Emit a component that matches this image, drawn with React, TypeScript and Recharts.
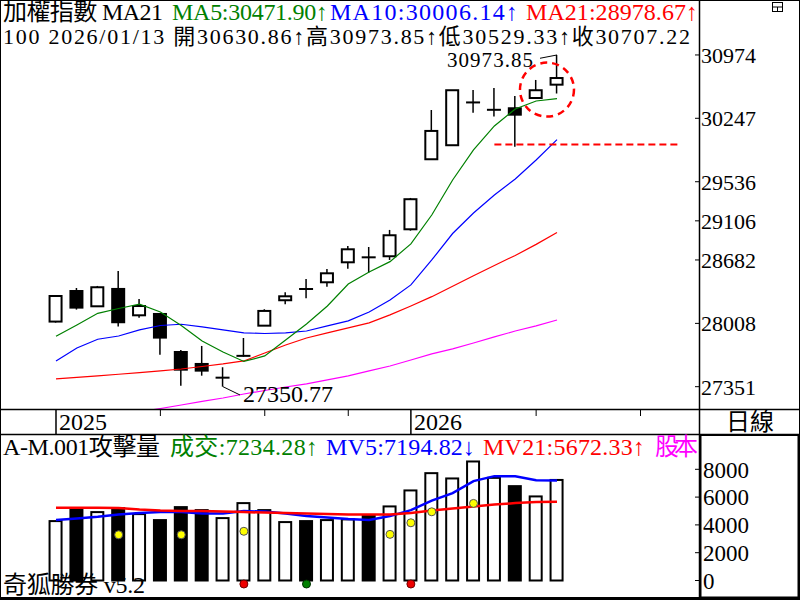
import React from 'react';
import { ComposedChart, Bar, Line, XAxis, YAxis, Scatter, ReferenceDot } from 'recharts';

const FONT = "'Liberation Serif','Noto Sans CJK TC',serif";

// ---- price data (25 daily candles) ----
const opens = [28027, 28350, 28188, 28372, 28093, 28107, 27709, 27585, 27442, 27668, 27984, 28252, 28373, 28443, 28657, 28712, 28722, 29014, 29786, 29943, 30426, 30342, 30361, 30478, 30630.86];
const highs = [28297, 28382, 28404, 28564, 28266, 28107, 27730, 27772, 27551, 27855, 28157, 28337, 28478, 28586, 28833, 28822, 29007, 29357, 30341, 30570, 30570, 30593, 30501, 30685, 30973.85];
const lows = [28016, 28153, 28188, 27974, 28068, 27681, 27360, 27464, 27350.77, 27660, 27984, 28210, 28273, 28396, 28589, 28546, 28682, 28999, 29786, 29943, 30311, 30266, 29927, 30478, 30529.33];
const closes = [28297, 28174, 28390, 28020, 28191, 27859, 27526, 27516, 27445, 27670, 28139, 28294, 28370, 28539, 28797, 28709, 28949, 29343, 30104, 30567, 30429, 30345, 30288, 30567, 30707.22];
const ma5 = [27873, 27992, 28114, 28165, 28210, 28128, 27986, 27824, 27709, 27611, 27668, 27834, 28002, 28191, 28425, 28553, 28664, 28855, 29170, 29555, 29890, 30160, 30353, 30444, 30471.9];
const ma10 = [27616, 27751, 27842, 27876, 27939, 27986, 27999, 27971, 27939, 27908, 27902, 27908, 27928, 27981, 28034, 28128, 28255, 28415, 28682, 28968, 29192, 29390, 29567, 29778, 30006.14];
const ma21 = [27431, 27446, 27462, 27479, 27495, 27513, 27533, 27559, 27585, 27616, 27699, 27782, 27855, 27908, 27960, 28013, 28097, 28191, 28290, 28401, 28513, 28623, 28731, 28850, 28978.67];
const ma60 = [null, null, null, null, 27094, 27128, 27164, 27200, 27235, 27276, 27312, 27348, 27379, 27420, 27462, 27513, 27564, 27626, 27689, 27741, 27803, 27866, 27928, 27981, 28044];
const priceTicks = [27351, 28008, 28682, 29106, 29536, 30247, 30974];
const supportLevel = 29950;
const supportFrom = 21;
const supportTo = 29.9;
const circleAt = { i: 23.52, v: 30574 };
const highNoteIdx = 24;
const lowNoteIdx = 8;

// ---- volume data ----
const volumes = [4274, 5208, 4921, 5208, 4777, 4346, 5280, 5065, 4490, 5568, 5065, 4203, 4274, 4346, 4397, 4655, 5330, 6480, 7723, 7342, 8563, 7385, 6789, 6049, 7234.28];
const mv5 = [4346, 4468, 4583, 4741, 4849, 4921, 4921, 4828, 4813, 4993, 4957, 4813, 4634, 4526, 4418, 4346, 4634, 5065, 5747, 6286, 7148, 7507, 7507, 7220, 7194.82];
const mv21 = [5230, 5230, 5230, 5208, 5101, 5029, 4993, 4993, 4957, 4921, 4885, 4849, 4813, 4777, 4756, 4756, 4756, 4849, 5029, 5172, 5316, 5460, 5568, 5639, 5672.33];
const volumeTicks = [0, 2000, 4000, 6000, 8000];
const yellowIdx = [3, 6, 9, 16, 17, 18, 20];
const yellowVal = [3290, 3290, 3540, 3319, 4152, 4943, 5546];
const redIdx = [9, 17];
const greenIdx = [12];
const signalLevel = -252;

// ---- date axis ----
const yearLabels = ['2025', '2026'];
const yearTickIdx = [0, 17];
const minorTickIdx = [5, 10, 14, 23, 28];

const X_DOMAIN: [number, number] = [-2.6826, 30.802];
const PRICE_DOMAIN: [number, number] = [27123, 31619];
const VOL_DOMAIN: [number, number] = [-1259, 10540];

const priceRows = opens.map((o, i) => ({
  i, o, h: highs[i], l: lows[i], c: closes[i],
  ma5: ma5[i], ma10: ma10[i], ma21: ma21[i], ma60: ma60[i],
}));
const supportPts = [{ i: supportFrom, s: supportLevel }, { i: supportTo, s: supportLevel }];
const volRows = volumes.map((v, i) => ({ i, vol: v, down: closes[i] < opens[i], mv5: mv5[i], mv21: mv21[i] }));
const yellowPts = yellowIdx.map((i, k) => ({ i, v: yellowVal[k] }));
const redPts = redIdx.map((i) => ({ i, v: signalLevel }));
const greenPts = greenIdx.map((i) => ({ i, v: signalLevel }));

const BodyShape = (props: any) => {
  const { x, y, width, height, payload } = props;
  const down = payload.c < payload.o;
  if (height < 2) {
    const yy = y + height / 2;
    return <line x1={x} x2={x + width} y1={yy} y2={yy} stroke="#000" strokeWidth={2} />;
  }
  return <rect x={x + 1} y={y} width={width - 2} height={height} fill={down ? '#000' : '#fff'} stroke="#000" strokeWidth={2} />;
};

const WickShape = (props: any) => {
  const { x, y, width, height } = props;
  const cx = x + width / 2;
  return <line x1={cx} x2={cx} y1={y} y2={y + height} stroke="#000" strokeWidth={1.5} />;
};

const VolShape = (props: any) => {
  const { x, y, width, height, payload } = props;
  return <rect x={x + 1} y={y} width={width - 2} height={height} fill={payload.down ? '#000' : '#fff'} stroke="#000" strokeWidth={2} />;
};

const PriceTick = (props: any) => {
  const { x, y, payload } = props;
  return (
    <g>
      <line x1={x - 4} x2={x} y1={y} y2={y} stroke="#000" strokeWidth={1} />
      <text x={x + 2} y={y} dy="0.36em" fontSize={22} fontFamily={FONT} fill="#000">{payload.value}</text>
    </g>
  );
};

const VolTick = (props: any) => {
  const { x, y, payload } = props;
  return (
    <g>
      <line x1={x - 4} x2={x} y1={y} y2={y} stroke="#000" strokeWidth={1} />
      <text x={x + 4} y={y} dy="0.36em" fontSize={23} fontFamily={FONT} fill="#000">{payload.value}</text>
    </g>
  );
};

const DateTick = (props: any) => {
  const { x, y, payload } = props;
  const k = yearTickIdx.indexOf(payload.value);
  if (k >= 0) {
    return (
      <g>
        <line x1={x} x2={x} y1={y} y2={y + 25} stroke="#000" strokeWidth={1.5} />
        <text x={x + 3} y={y + 21} fontSize={24} fontFamily={FONT} fill="#000">{yearLabels[k]}</text>
      </g>
    );
  }
  return <line x1={x} x2={x} y1={y} y2={y + 7} stroke="#000" strokeWidth={1} />;
};

const HighNote = (props: any) => {
  const { cx, cy } = props;
  return (
    <g>
      <polyline points={`${cx - 17},${cy + 3.3} ${cx},${cy}`} fill="none" stroke="#000" strokeWidth={1} />
      <text x={cx - 24} y={cy + 12.5} textAnchor="end" textLength={86} lengthAdjust="spacing" fontSize={21} fontFamily={FONT} fill="#000">{highs[highNoteIdx].toFixed(2)}</text>
    </g>
  );
};

const LowNote = (props: any) => {
  const { cx, cy } = props;
  return (
    <g>
      <polyline points={`${cx},${cy} ${cx + 17},${cy + 8.3}`} fill="none" stroke="#000" strokeWidth={1} />
      <text x={cx + 20} y={cy + 15.3} fontSize={24} fontFamily={FONT} fill="#000">{lows[lowNoteIdx].toFixed(2)}</text>
    </g>
  );
};

const YellowDot = (p: any) => <circle cx={p.cx} cy={p.cy} r={4} fill="#ffff00" stroke="#555" strokeWidth={1} />;
const RedDot = (p: any) => <circle cx={p.cx} cy={p.cy} r={4} fill="#ee0000" stroke="#700000" strokeWidth={1} />;
const GreenDot = (p: any) => <circle cx={p.cx} cy={p.cy} r={4} fill="#008000" stroke="#003000" strokeWidth={1} />;

const T = (p: { x: number; y: number; w: number; color: string; size?: number; children: React.ReactNode }) => (
  <text x={p.x} y={p.y} textLength={p.w} lengthAdjust="spacing" fontSize={p.size || 24} fontFamily={FONT} fill={p.color}>{p.children}</text>
);

export default function App() {
  return (
    <div style={{ position: 'absolute', left: 0, top: 0, width: 800, height: 600, background: '#fff', overflow: 'hidden' }}>
      <div style={{ position: 'absolute', left: 0, top: 0 }}>
        <ComposedChart width={800} height={434} data={priceRows} margin={{ top: 0, right: 0, bottom: 0, left: 0 }}>
          <XAxis xAxisId="main" dataKey="i" type="number" domain={X_DOMAIN} allowDataOverflow ticks={[...yearTickIdx, ...minorTickIdx]} interval={0}
            height={25} tickSize={0} tickMargin={0} tickLine={false} axisLine={false} tick={<DateTick />} />
          <XAxis xAxisId="wick" dataKey="i" type="number" domain={X_DOMAIN} allowDataOverflow hide />
          <YAxis yAxisId="p" orientation="right" width={101} type="number" scale="log" domain={PRICE_DOMAIN} allowDataOverflow
            ticks={priceTicks} interval={0} tickSize={0} tickMargin={0} tickLine={false} axisLine={false} tick={<PriceTick />} />
          <Bar xAxisId="wick" yAxisId="p" dataKey={(d: any) => [d.l, d.h]} barSize={14} shape={<WickShape />} activeBar={false} isAnimationActive={false} />
          <Bar xAxisId="main" yAxisId="p" dataKey={(d: any) => [Math.min(d.o, d.c), Math.max(d.o, d.c)]} barSize={14} shape={<BodyShape />} activeBar={false} isAnimationActive={false} />
          <Line xAxisId="main" yAxisId="p" dataKey="ma60" stroke="#ff00ff" strokeWidth={1.2} dot={false} activeDot={false} isAnimationActive={false} />
          <Line xAxisId="main" yAxisId="p" dataKey="ma21" stroke="#ff0000" strokeWidth={1.2} dot={false} activeDot={false} isAnimationActive={false} />
          <Line xAxisId="main" yAxisId="p" dataKey="ma10" stroke="#0000ff" strokeWidth={1.2} dot={false} activeDot={false} isAnimationActive={false} />
          <Line xAxisId="main" yAxisId="p" dataKey="ma5" stroke="#008000" strokeWidth={1.2} dot={false} activeDot={false} isAnimationActive={false} />
          <Line xAxisId="main" yAxisId="p" data={supportPts} dataKey="s" stroke="#ff0000" strokeWidth={2} strokeDasharray="7 4" dot={false} activeDot={false} isAnimationActive={false} />
          <ReferenceDot xAxisId="main" yAxisId="p" x={circleAt.i} y={circleAt.v} r={27} fill="none" stroke="#ff0000" strokeWidth={2.5} strokeDasharray="7 5" ifOverflow="visible" />
          <ReferenceDot xAxisId="main" yAxisId="p" x={highNoteIdx} y={highs[highNoteIdx]} ifOverflow="visible" shape={<HighNote />} />
          <ReferenceDot xAxisId="main" yAxisId="p" x={lowNoteIdx} y={lows[lowNoteIdx]} ifOverflow="visible" shape={<LowNote />} />
        </ComposedChart>
      </div>
      <div style={{ position: 'absolute', left: 0, top: 434 }}>
        <ComposedChart width={800} height={166} data={volRows} margin={{ top: 0, right: 0, bottom: 2, left: 0 }}>
          <XAxis xAxisId="main" dataKey="i" type="number" domain={X_DOMAIN} allowDataOverflow hide />
          <YAxis yAxisId="v" orientation="right" width={101} type="number" domain={VOL_DOMAIN} allowDataOverflow
            ticks={volumeTicks} interval={0} tickSize={0} tickMargin={0} tickLine={false} axisLine={false} tick={<VolTick />} />
          <Bar xAxisId="main" yAxisId="v" dataKey="vol" barSize={14} shape={<VolShape />} activeBar={false} isAnimationActive={false} />
          <Line xAxisId="main" yAxisId="v" dataKey="mv5" stroke="#0000ff" strokeWidth={2.5} dot={false} activeDot={false} isAnimationActive={false} />
          <Line xAxisId="main" yAxisId="v" dataKey="mv21" stroke="#ff0000" strokeWidth={2.5} dot={false} activeDot={false} isAnimationActive={false} />
          <Scatter xAxisId="main" yAxisId="v" data={yellowPts} dataKey="v" shape={<YellowDot />} isAnimationActive={false} />
          <Scatter xAxisId="main" yAxisId="v" data={redPts} dataKey="v" shape={<RedDot />} isAnimationActive={false} />
          <Scatter xAxisId="main" yAxisId="v" data={greenPts} dataKey="v" shape={<GreenDot />} isAnimationActive={false} />
        </ComposedChart>
      </div>
      <svg width={800} height={600} style={{ position: 'absolute', left: 0, top: 0, pointerEvents: 'none' }}>
        <rect x={0.5} y={0.5} width={799} height={599} fill="none" stroke="#000" strokeWidth={1} />
        <line x1={699.5} x2={699.5} y1={0} y2={600} stroke="#000" strokeWidth={1.5} />
        <line x1={0} x2={800} y1={409.5} y2={409.5} stroke="#000" strokeWidth={1.5} />
        <line x1={0} x2={800} y1={434.5} y2={434.5} stroke="#000" strokeWidth={1.5} />
        <line x1={0} x2={800} y1={598} y2={598} stroke="#000" strokeWidth={2} />
        <rect x={700.5} y={435} width={98} height={162.5} fill="none" stroke="#000" strokeWidth={2} />
        <rect x={772.5} y={2.5} width={10} height={9} fill="#fff" stroke="#000" strokeWidth={1} />
        <line x1={772.5} x2={782.5} y1={7} y2={7} stroke="#000" strokeWidth={1} />
        <line x1={777.5} x2={777.5} y1={7} y2={11.5} stroke="#000" strokeWidth={1} />
        <text x={750} y={430} textAnchor="middle" fontSize={24} fontFamily={FONT} fill="#000">日線</text>

        <T x={3} y={19.5} w={160} color="#000">加權指數 MA21</T>
        <T x={172} y={19.5} w={156} color="#008000">MA5:30471.90↑</T>
        <T x={330} y={19.5} w={188} color="#0000ff">MA10:30006.14↑</T>
        <T x={526} y={19.5} w={172} color="#ff0000">MA21:28978.67↑</T>
        <T x={3} y={43.5} w={687} size={22} color="#000">100 2026/01/13 開30630.86↑高30973.85↑低30529.33↑收30707.22</T>

        <T x={3} y={455} w={157} color="#000">A-M.001攻擊量</T>
        <T x={170} y={455} w={148} color="#008000">成交:7234.28↑</T>
        <T x={326} y={455} w={149} color="#0000ff">MV5:7194.82↓</T>
        <T x={483} y={455} w={162} color="#ff0000">MV21:5672.33↑</T>
        <T x={655} y={455} w={43} color="#ff00ff">股本</T>
        <T x={3} y={593} w={142} color="#000">奇狐勝券 v5.2</T>
      </svg>
    </div>
  );
}
